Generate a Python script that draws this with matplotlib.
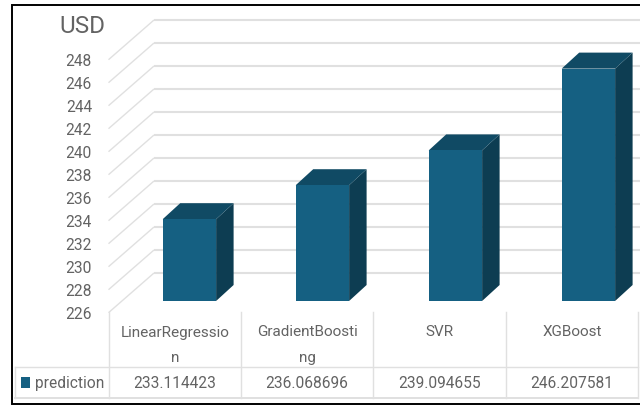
import matplotlib
matplotlib.use("Agg")
import matplotlib.pyplot as plt
from matplotlib.patches import Polygon, Rectangle
import numpy as np

plt.rcParams['font.family'] = ['Roboto', 'Liberation Sans', 'DejaVu Sans']

# chart data
categories = ["LinearRegressio\nn", "GradientBoosti\nng", "SVR", "XGBoost"]
prediction = [233.114423, 236.068696, 239.094655, 246.207581]
value_labels = ["233.114423", "236.068696", "239.094655", "246.207581"]
value_ticks = list(range(226, 250, 2))
series_name = "prediction"
unit_label = "USD"

FRONT = "#156082"
TOP = "#104A64"
SIDE = "#0D3D52"
GRID = "#E0E0E0"
TEXT = "#636363"

W, H = 640, 405
fig = plt.figure(figsize=(W / 100, H / 100), dpi=100, facecolor="white")

# Layout in pixels
BAR_X0, CAT_STEP, BAR_W = 189.4, 133.0, 53.4
BAR_BASE_Y, PX_PER_UNIT = 301.0, 11.5
BASE_VALUE = 226
DEPTH_DX, DEPTH_DY = 17.5, 16.0

# The chart axes fill the figure: x is the category index, y the value at the bars' front face
ax = fig.add_axes([0, 0, 1, 1])
ax.set_xlim(-BAR_X0 / CAT_STEP, (W - BAR_X0) / CAT_STEP)
ax.set_ylim(BASE_VALUE - (H - BAR_BASE_Y) / PX_PER_UNIT, BASE_VALUE + BAR_BASE_Y / PX_PER_UNIT)
ax.axis("off")

dx_unit = 1 / CAT_STEP
dy_unit = 1 / PX_PER_UNIT

# Helper overlay in pixel coordinates for the table and frame
pix = fig.add_axes([0, 0, 1, 1], zorder=3)
pix.set_xlim(0, W)
pix.set_ylim(H, 0)
pix.axis("off")
pix.patch.set_alpha(0)

# Sloped side wall and back wall gridlines
WALL_FRONT_X, WALL_BACK_X = 108.5, 154.0
WALL_FRONT_OFFSET = 312.7 - BAR_BASE_Y   # floor front edge below bar base
WALL_BACK_OFFSET = BAR_BASE_Y - 273.0    # back wall base above bar base
for v in value_ticks:
    x_front = (WALL_FRONT_X - BAR_X0) * dx_unit
    x_back = (WALL_BACK_X - BAR_X0) * dx_unit
    x_end = (W - BAR_X0) * dx_unit
    y_front = v - WALL_FRONT_OFFSET * dy_unit
    y_back = v + WALL_BACK_OFFSET * dy_unit
    ax.plot([x_front, x_back], [y_front, y_back], color=GRID, lw=1.0, zorder=1,
            solid_capstyle="butt")
    ax.plot([x_back, x_end], [y_back, y_back], color=GRID, lw=1.5, zorder=1,
            solid_capstyle="butt")
    ax.text((92 - BAR_X0) * dx_unit, y_front, str(v), ha="right", va="center_baseline",
            fontsize=11.2, color=TEXT)

# 3D bars
half = BAR_W / 2 * dx_unit
ddx, ddy = DEPTH_DX * dx_unit, DEPTH_DY * dy_unit
for i, val in enumerate(prediction):
    l, r = i - half, i + half
    ax.add_patch(Polygon([(r, BASE_VALUE), (r + ddx, BASE_VALUE + ddy), (r + ddx, val + ddy), (r, val)],
                         closed=True, fc=SIDE, ec="none", zorder=3))
    ax.add_patch(Polygon([(l, val), (r, val), (r + ddx, val + ddy), (l + ddx, val + ddy)],
                         closed=True, fc=TOP, ec="none", zorder=3))
    ax.add_patch(Rectangle((l, BASE_VALUE), r - l, val - BASE_VALUE, fc=FRONT, ec="none", zorder=4))

# Data table below the plot
col_x = [108.5, 241.0, 373.3, 506.0, 638.3]
TABLE_TOP, ROW_Y, TABLE_BOTTOM = 312.3, 366.7, 397.7
LEFT_X = 15.0
for x in col_x:
    pix.plot([x, x], [TABLE_TOP, TABLE_BOTTOM], color=GRID, lw=1.0)
pix.plot([LEFT_X, LEFT_X], [ROW_Y, TABLE_BOTTOM], color=GRID, lw=1.0)
pix.plot([LEFT_X, col_x[-1]], [ROW_Y, ROW_Y], color=GRID, lw=1.0)
pix.plot([LEFT_X, col_x[-1]], [TABLE_BOTTOM, TABLE_BOTTOM], color=GRID, lw=1.4)

for i, (cat, lab) in enumerate(zip(categories, value_labels)):
    cx = (col_x[i] + col_x[i + 1]) / 2
    for j, part in enumerate(cat.split("\n")):
        pix.text(cx, 331 + j * 25.7, part, ha="center", va="center_baseline",
                 fontsize=11, color=TEXT)
    pix.text(cx, 382, lab, ha="center", va="center_baseline", fontsize=11.2, color=TEXT)

pix.add_patch(Rectangle((21, 376.7), 9, 11.3, fc=FRONT, ec="none"))
pix.text(35, 382, series_name, ha="left", va="center_baseline", fontsize=11.2, color=TEXT)

# Axis unit title
pix.text(82, 24, unit_label, ha="center", va="center_baseline", fontsize=17.5, color=TEXT)

# Outer frame, open on the right
pix.plot([640, 11.5, 11.5, 640], [4.5, 4.5, 404, 404], color="black", lw=1.4,
         solid_joinstyle="miter", clip_on=False)

fig.savefig("out.png", dpi=100, facecolor="white")
